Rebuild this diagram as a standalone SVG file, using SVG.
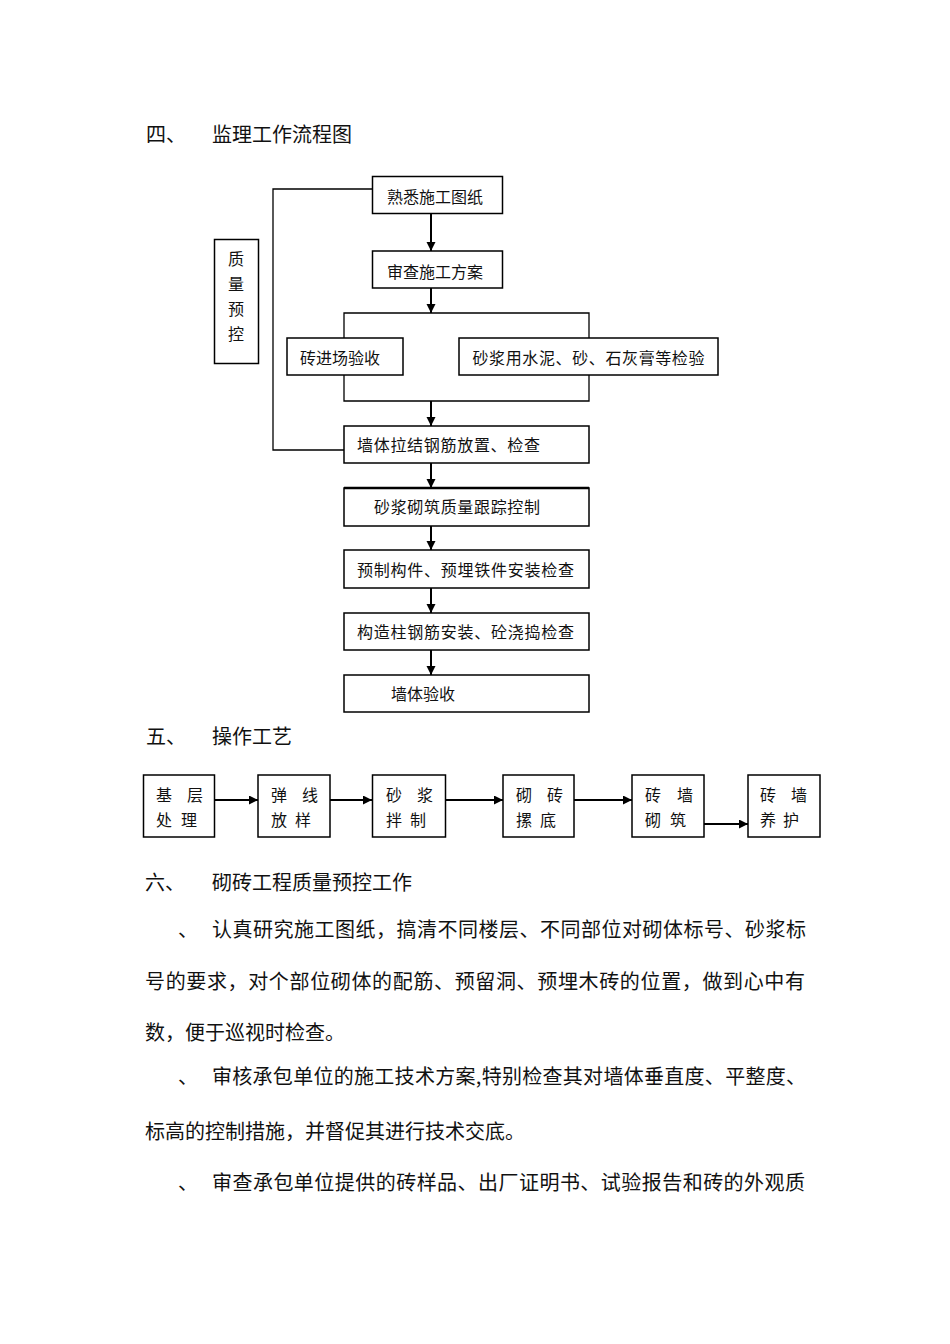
<svg xmlns="http://www.w3.org/2000/svg" width="950" height="1344" viewBox="0 0 950 1344">
<style>
text{font-family:"Noto Sans CJK SC","Noto Sans CJK TC",sans-serif;fill:#111;}
.h{font-size:20px;}
.p{font-size:20px;}
.n{font-size:16px;}
.box{fill:#fff;stroke:#000;stroke-width:1.5;}
.ln{fill:none;stroke:#000;stroke-width:1.3;}
.ar{fill:none;stroke:#000;stroke-width:2;marker-end:url(#ah);}
</style>
<defs>
<marker id="ah" markerUnits="userSpaceOnUse" markerWidth="10" markerHeight="10" refX="9" refY="4.5" orient="auto">
<path d="M0,0 L9,4.5 L0,9 z" fill="#000"/>
</marker>
</defs>
<rect width="950" height="1344" fill="#fff"/>

<text class="h" x="146" y="142">四、</text>
<text class="h" x="212" y="142">监理工作流程图</text>

<g id="connectors">
<polyline class="ln" points="372,189 273,189 273,450 344,450"/>
<line class="ar" x1="431" y1="213" x2="431" y2="251"/>
<line class="ar" x1="431" y1="288" x2="431" y2="313"/>
<polyline class="ln" points="344,338 344,313 589,313 589,338"/>
<polyline class="ln" points="344,375 344,401 589,401 589,375"/>
<line class="ar" x1="431" y1="401" x2="431" y2="426"/>
<line class="ar" x1="431" y1="463" x2="431" y2="488"/>
<line class="ar" x1="431" y1="526" x2="431" y2="550"/>
<line class="ar" x1="431" y1="588" x2="431" y2="613"/>
<line class="ar" x1="431" y1="650" x2="431" y2="675"/>
<line class="ar" x1="215" y1="800" x2="258" y2="800"/>
<line class="ar" x1="330" y1="800" x2="372" y2="800"/>
<line class="ar" x1="446" y1="800" x2="503" y2="800"/>
<line class="ar" x1="574" y1="800" x2="632" y2="800"/>
<line class="ar" x1="704" y1="824" x2="748" y2="824"/>
</g>

<g id="n1"><rect class="box" x="372.5" y="176.5" width="130" height="37"/><text class="n" x="387" y="203">熟悉施工图纸</text></g>
<g id="n2"><rect class="box" x="372.5" y="251" width="130" height="37"/><text class="n" x="387" y="277.5">审查施工方案</text></g>
<g id="n3"><rect class="box" x="287" y="338" width="116" height="37"/><text class="n" x="300" y="364">砖进场验收</text></g>
<g id="n4"><rect class="box" x="459" y="338" width="259" height="37"/><text class="n" x="472.5" y="364" textLength="232" lengthAdjust="spacing">砂浆用水泥、砂、石灰膏等检验</text></g>
<g id="n5"><rect class="box" x="344" y="426" width="245" height="37"/><text class="n" x="357" y="451" textLength="183" lengthAdjust="spacing">墙体拉结钢筋放置、检查</text></g>
<g id="n6"><rect class="box" x="344" y="488" width="245" height="38"/><line x1="344" y1="488" x2="589" y2="488" stroke="#000" stroke-width="2.5"/><text class="n" x="374" y="512.5" textLength="166" lengthAdjust="spacing">砂浆砌筑质量跟踪控制</text></g>
<g id="n7"><rect class="box" x="344" y="550" width="245" height="38"/><text class="n" x="357" y="576" textLength="217" lengthAdjust="spacing">预制构件、预埋铁件安装检查</text></g>
<g id="n8"><rect class="box" x="344" y="613" width="245" height="37"/><text class="n" x="357" y="637.5" textLength="217" lengthAdjust="spacing">构造柱钢筋安装、砼浇捣检查</text></g>
<g id="n9"><rect class="box" x="344" y="675" width="245" height="37"/><text class="n" x="391" y="699.5">墙体验收</text></g>
<g id="qc"><rect class="box" x="214.5" y="239.5" width="44" height="124"/>
<text class="n" x="228" y="265">质</text><text class="n" x="228" y="290">量</text><text class="n" x="228" y="315">预</text><text class="n" x="228" y="340">控</text></g>

<text class="h" x="146" y="744">五、</text>
<text class="h" x="212" y="744">操作工艺</text>

<g id="s1"><rect class="box" x="143.5" y="775" width="71" height="62"/><text class="n" x="156 187" y="801">基层</text><text class="n" x="156 181" y="826">处理</text></g>
<g id="s2"><rect class="box" x="258" y="775" width="72" height="62"/><text class="n" x="271 302" y="801">弹线</text><text class="n" x="271 295" y="826">放样</text></g>
<g id="s3"><rect class="box" x="372.5" y="775" width="73" height="62"/><text class="n" x="386 417" y="801">砂浆</text><text class="n" x="386 410" y="826">拌制</text></g>
<g id="s4"><rect class="box" x="503" y="775" width="71" height="62"/><text class="n" x="516 547" y="801">砌砖</text><text class="n" x="516 540" y="826">摞底</text></g>
<g id="s5"><rect class="box" x="632" y="775" width="72" height="62"/><text class="n" x="645 677" y="801">砖墙</text><text class="n" x="645 670" y="826">砌筑</text></g>
<g id="s6"><rect class="box" x="748" y="775" width="72" height="62"/><text class="n" x="760 791" y="801">砖墙</text><text class="n" x="760 783" y="826">养护</text></g>

<text class="h" x="145" y="890">六、</text>
<text class="h" x="212" y="890">砌砖工程质量预控工作</text>

<text class="p" x="178" y="937">、</text>
<text class="p" x="212" y="937" textLength="594" lengthAdjust="spacing">认真研究施工图纸，搞清不同楼层、不同部位对砌体标号、砂浆标</text>
<text class="p" x="145" y="989" textLength="660" lengthAdjust="spacing">号的要求，对个部位砌体的配筋、预留洞、预埋木砖的位置，做到心中有</text>
<text class="p" x="145" y="1040">数，便于巡视时检查。</text>
<text class="p" x="178" y="1084">、</text>
<text class="p" x="212" y="1084" textLength="594" lengthAdjust="spacing">审核承包单位的施工技术方案,特别检查其对墙体垂直度、平整度、</text>
<text class="p" x="145" y="1139">标高的控制措施，并督促其进行技术交底。</text>
<text class="p" x="178" y="1190">、</text>
<text class="p" x="212" y="1190" textLength="593" lengthAdjust="spacing">审查承包单位提供的砖样品、出厂证明书、试验报告和砖的外观质</text>
</svg>
